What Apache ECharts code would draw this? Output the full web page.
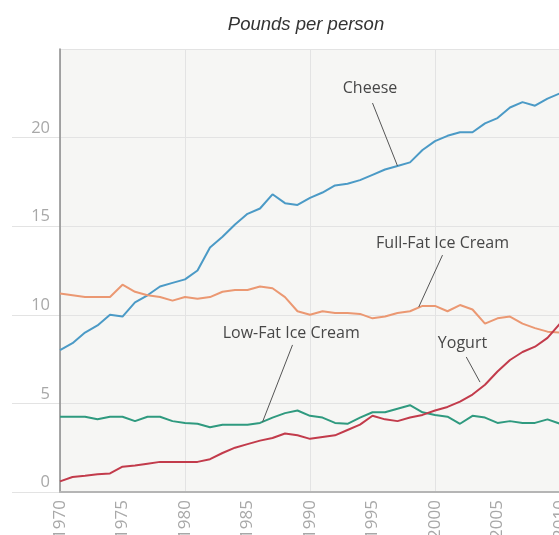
<!DOCTYPE html>
<html>
<head>
<meta charset="utf-8">
<script src="https://cdn.jsdelivr.net/npm/echarts@6/dist/echarts.min.js"></script>
<style>
  html, body { margin: 0; padding: 0; background: #ffffff; }
  #chart { width: 559px; height: 535px; }
</style>
</head>
<body>
<div id="chart"></div>
<script>
// ---- data ----
const years = [];
for (let y = 1970; y <= 2010; y++) years.push(y);

const cheese = [8.0, 8.4, 9.0, 9.4, 10.0, 9.9, 10.7, 11.1, 11.6, 11.8,
  12.0, 12.5, 13.8, 14.4, 15.1, 15.7, 16.0, 16.8, 16.3, 16.2,
  16.6, 16.9, 17.3, 17.4, 17.6, 17.9, 18.2, 18.4, 18.6, 19.3,
  19.8, 20.1, 20.3, 20.3, 20.8, 21.1, 21.7, 22.0, 21.8, 22.2, 22.5];

const fullFat = [11.2, 11.1, 11.0, 11.0, 11.0, 11.7, 11.3, 11.1, 11.0, 10.8,
  11.0, 10.9, 11.0, 11.3, 11.4, 11.4, 11.6, 11.5, 11.0, 10.2,
  10.0, 10.2, 10.1, 10.1, 10.05, 9.8, 9.9, 10.1, 10.2, 10.5,
  10.5, 10.2, 10.55, 10.3, 9.5, 9.8, 9.9, 9.5, 9.25, 9.05, 9.0];

const lowFat = [4.25, 4.25, 4.25, 4.1, 4.25, 4.25, 4.0, 4.25, 4.25, 4.0,
  3.9, 3.85, 3.65, 3.8, 3.8, 3.8, 3.9, 4.2, 4.45, 4.6,
  4.3, 4.2, 3.9, 3.85, 4.2, 4.5, 4.5, 4.7, 4.9, 4.5,
  4.35, 4.25, 3.85, 4.3, 4.2, 3.9, 4.0, 3.9, 3.9, 4.1, 3.85];

const yogurt = [0.6, 0.85, 0.92, 1.0, 1.05, 1.43, 1.5, 1.6, 1.7, 1.7,
  1.7, 1.7, 1.85, 2.2, 2.5, 2.7, 2.9, 3.05, 3.3, 3.2,
  3.0, 3.1, 3.2, 3.5, 3.8, 4.3, 4.1, 4.0, 4.2, 4.35,
  4.6, 4.8, 5.1, 5.5, 6.05, 6.8, 7.45, 7.9, 8.2, 8.7, 9.5];

const seriesNames = ['Cheese', 'Full-Fat Ice Cream', 'Low-Fat Ice Cream', 'Yogurt'];
const titleText = 'Pounds per person';

// annotation anchors in data space: [labelYear, labelValue, lineStartYear, lineStartValue, lineEndYear, lineEndValue]
const annoCheese  = [1994.8, 22.8, 1995.0, 21.95, 1997.0, 18.4];
const annoFullFat = [2000.6, 14.05, 2000.6, 13.37, 1998.7, 10.44];
const annoLowFat  = [1988.5, 8.97, 1988.6, 8.3, 1986.2, 3.95];
const annoYogurt  = [2002.2, 8.41, 2002.5, 7.62, 2003.6, 6.2];

// ---- build ----
const FONT = '"Open Sans", "Noto Sans", sans-serif';
function pairs(vals) { return years.map((y, i) => [y, vals[i]]); }

function annotated(name, vals, color, anno) {
  return {
    name: name,
    type: 'line',
    xAxisIndex: 0, yAxisIndex: 0,
    data: pairs(vals),
    symbol: 'none',
    smooth: false,
    lineStyle: { color: color, width: 2 },
    itemStyle: { color: color },
    z: 3,
    markLine: {
      silent: true,
      symbol: ['none', 'none'],
      lineStyle: { color: '#555', width: 1, type: 'solid' },
      label: { show: false },
      emphasis: { disabled: true },
      data: [[{ coord: [anno[2], anno[3]] }, { coord: [anno[4], anno[5]] }]]
    },
    markPoint: {
      silent: true,
      symbol: 'rect',
      symbolSize: 1,
      itemStyle: { color: 'rgba(0,0,0,0)' },
      label: {
        show: true, position: 'inside', formatter: name,
        color: '#474747', fontSize: 16, fontFamily: FONT
      },
      data: [{ coord: [anno[0], anno[1]] }]
    }
  };
}

const chart = echarts.init(document.getElementById('chart'), null, { renderer: 'canvas' });

const option = {
  backgroundColor: '#ffffff',
  animation: false,
  title: {
    text: titleText,
    left: 301, top: 10,
    textAlign: 'center',
    textStyle: {
      fontFamily: '"Liberation Sans", Arial, sans-serif',
      fontStyle: 'italic', fontWeight: 'normal',
      fontSize: 18.5, color: '#333'
    }
  },
  grid: [
    { left: 60, right: -1, top: 49, bottom: 43, show: true, backgroundColor: '#f6f6f4', borderWidth: 0,
      outerBoundsMode: 'none', containLabel: false },
    { left: 12, right: -1, top: 137.6, bottom: 43, show: false,
      outerBoundsMode: 'none', containLabel: false }
  ],
  xAxis: [
    {
      gridIndex: 0, type: 'value', min: 1970, max: 2010, interval: 5,
      axisLine: { show: true, lineStyle: { color: '#b5b5b5', width: 2 } },
      axisTick: { show: false },
      splitLine: { show: false },
      axisLabel: {
        rotate: 90, margin: 8, color: '#a8a8a8', fontSize: 17, fontFamily: FONT,
        hideOverlap: false, showMinLabel: true, showMaxLabel: true,
        formatter: v => String(v)
      }
    },
    {
      gridIndex: 0, type: 'value', min: 1970, max: 2010, interval: 10,
      position: 'bottom',
      axisLine: { show: false }, axisTick: { show: false }, axisLabel: { show: false },
      splitLine: { show: true, lineStyle: { color: '#e3e3e3', width: 1 } }
    },
    {
      gridIndex: 1, type: 'value', min: 0, max: 1, show: false
    }
  ],
  yAxis: [
    {
      gridIndex: 0, type: 'value', min: 0, max: 25, interval: 5,
      axisLine: { show: true, lineStyle: { color: '#8a8a8a', width: 1.5 } },
      axisTick: { show: false },
      splitLine: { show: true, lineStyle: { color: '#e3e3e3', width: 1 } },
      axisLabel: {
        margin: 10, color: '#a8a8a8', fontSize: 16.5, fontFamily: FONT,
        verticalAlign: 'bottom', padding: [0, 0, 1, 0],
        formatter: v => (v === 25 ? '' : String(v))
      }
    },
    {
      gridIndex: 1, type: 'value', min: 0, max: 20, interval: 5,
      axisLine: { show: false }, axisTick: { show: false }, axisLabel: { show: false },
      splitLine: { show: true, lineStyle: { color: '#e3e3e3', width: 1 } }
    }
  ],
  series: [
    annotated(seriesNames[0], cheese, '#4b9ac6', annoCheese),
    annotated(seriesNames[1], fullFat, '#eb9872', annoFullFat),
    annotated(seriesNames[2], lowFat, '#2f9a7f', annoLowFat),
    annotated(seriesNames[3], yogurt, '#c23b4b', annoYogurt)
  ]
};

chart.setOption(option);
</script>
</body>
</html>
